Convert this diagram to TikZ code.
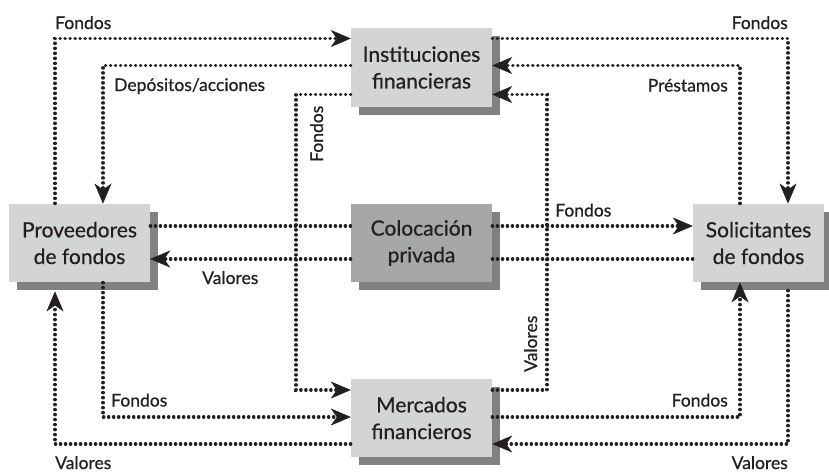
\documentclass[tikz,border=0pt]{standalone}
\usepackage{fontspec}
\setmainfont{Lato}[FakeBold=0.6]
\usetikzlibrary{arrows.meta,shadows}
\definecolor{facelight}{HTML}{D3D4D6}
\definecolor{facemid}{HTML}{A6A7A9}
\definecolor{shadowc}{HTML}{808183}
\definecolor{inkc}{HTML}{231F20}
\tikzset{
  box/.style={fill=facelight, minimum width=141pt, minimum height=78.5pt, inner sep=0pt,
    align=center, font=\fontsize{21}{26.7}\selectfont, text=inkc,
    drop shadow={shadow xshift=8pt, shadow yshift=-8pt, fill=shadowc, opacity=1}},
  flow/.style={line width=3.2pt, dash pattern=on 0.4pt off 4.6pt, line cap=round, draw=inkc},
  tipstyle/.style={-{Stealth[length=20pt,width=17pt,inset=6pt,line width=0.5pt,fill=inkc]}},
  arr/.style={flow, tipstyle},
  lbl/.style={font=\fontsize{17.5}{20}\selectfont, inner sep=0pt, text=inkc}
}
\begin{document}
\begin{tikzpicture}[x=1pt,y=-1pt]
\useasboundingbox (0,0) rectangle (829,472);
% boxes
\node[box] (inst) at (421.5,67.5) {Instituciones\\financieras};
\node[box] (prov) at (79.5,243) {Proveedores\\de fondos};
\node[box, fill=facemid] (col) at (421.5,243) {Colocación\\privada};
\node[box, minimum width=131pt] (sol) at (758.5,243) {Solicitantes\\de fondos};
\node[box] (merc) at (421.5,418) {Mercados\\financieros};
% route coordinates
\coordinate (cL) at (296,240);
\coordinate (cR) at (547,240);
% top-left
\draw[arr] ([xshift=-24.5pt]prov.north) |- ([yshift=29pt]inst.west);
\draw[arr] ([yshift=2pt]inst.west) -| ([xshift=23.5pt]prov.north);
\draw[arr] ([yshift=-27pt]inst.west) -| (cL) |- ([yshift=28pt]merc.west);
% top-right
\draw[arr] ([yshift=29pt]inst.east) -| ([xshift=29.5pt]sol.north);
\draw[arr] ([xshift=-18.5pt]sol.north) |- ([yshift=2pt]inst.east);
\draw[arr] ([yshift=28pt]merc.east) -| (cR) |- ([yshift=-27pt]inst.east);
% middle
\draw[flow] ([yshift=17pt]prov.east) -- ([yshift=17pt]col.west);
\draw[arr] ([yshift=17pt]col.east) -- ([yshift=17pt]sol.west);
\draw[flow] ([yshift=-16pt]sol.west) -- ([yshift=-16pt]col.east);
\draw[arr] ([yshift=-16pt]col.west) -- ([yshift=-16pt]prov.east);
% bottom
\draw[arr] ([xshift=23.5pt]prov.south) |- ([yshift=1pt]merc.west);
\draw[arr] ([yshift=-26pt]merc.west) -| ([xshift=-24.5pt,yshift=-9pt]prov.south);
\draw[arr] ([yshift=1pt]merc.east) -| ([xshift=-18.5pt]sol.south);
\draw[arr] ([xshift=29.5pt,yshift=-8pt]sol.south) |- ([yshift=-26pt]merc.east);
% labels
\node[lbl, anchor=base west] (l1) at (55,29) {Fondos};
\node[lbl, anchor=base west] (l2) at (114,91) {Depósitos/acciones};
\node[lbl, anchor=base west, rotate=90] (l3) at (323,162) {Fondos};
\node[lbl, anchor=base east] (l4) at (788,29) {Fondos};
\node[lbl, anchor=base east] (l5) at (728,91.5) {Préstamos};
\node[lbl, anchor=base west] (l6) at (555,216.5) {Fondos};
\node[lbl, anchor=base west] (l7) at (202,284) {Valores};
\node[lbl, anchor=base west, rotate=90] (l8) at (537,372) {Valores};
\node[lbl, anchor=base west] (l9) at (111,406.5) {Fondos};
\node[lbl, anchor=base west] (l10) at (55,469) {Valores};
\node[lbl, anchor=base east] (l11) at (728,406.5) {Fondos};
\node[lbl, anchor=base east] (l12) at (788,469) {Valores};
\end{tikzpicture}
\end{document}
